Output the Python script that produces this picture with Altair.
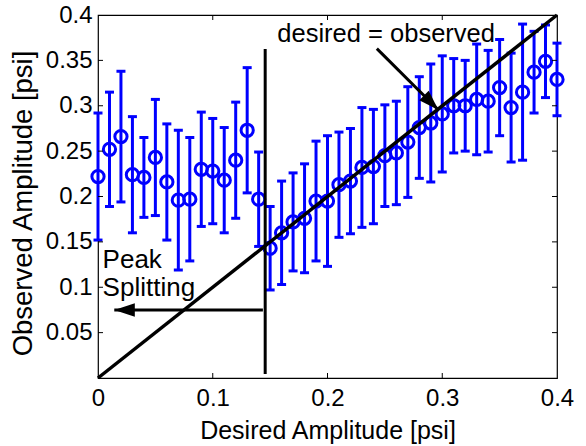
import altair as alt
import pandas as pd

# ---- data ----
desired = [0.00, 0.01, 0.02, 0.03, 0.04, 0.05, 0.06, 0.07, 0.08, 0.09,
           0.10, 0.11, 0.12, 0.13, 0.14, 0.15, 0.16, 0.17, 0.18, 0.19,
           0.20, 0.21, 0.22, 0.23, 0.24, 0.25, 0.26, 0.27, 0.28, 0.29,
           0.30, 0.31, 0.32, 0.33, 0.34, 0.35, 0.36, 0.37, 0.38, 0.39, 0.40]
observed = [0.222, 0.252, 0.266, 0.224, 0.221, 0.243, 0.216, 0.196, 0.197, 0.230,
            0.228, 0.218, 0.240, 0.273, 0.197, 0.143, 0.160, 0.172, 0.176, 0.195,
            0.195, 0.213, 0.217, 0.232, 0.233, 0.245, 0.248, 0.260, 0.276, 0.281,
            0.291, 0.300, 0.300, 0.307, 0.305, 0.320, 0.298, 0.315, 0.337, 0.349, 0.329]
errors = [0.070, 0.063, 0.072, 0.064, 0.044, 0.064, 0.064, 0.077, 0.068, 0.063,
          0.058, 0.058, 0.064, 0.069, 0.052, 0.046, 0.057, 0.054, 0.060, 0.066,
          0.072, 0.058, 0.058, 0.066, 0.063, 0.056, 0.057, 0.061, 0.056, 0.065,
          0.064, 0.052, 0.050, 0.061, 0.056, 0.053, 0.060, 0.075, 0.045, 0.040, 0.040]

x_ticks = [0, 0.1, 0.2, 0.3, 0.4]
y_ticks = [0.05, 0.1, 0.15, 0.2, 0.25, 0.3, 0.35, 0.4]
x_inner_ticks = [0.1, 0.2, 0.3]
y_inner_ticks = [0.05, 0.1, 0.15, 0.2, 0.25, 0.3, 0.35]

# annotation geometry (data units)
diag_x = [0.0, 0.4]
diag_y = [0.0, 0.4]
split_x = [0.1457]
split_y0 = [0.0044]
split_y1 = [0.3625]
peak_arrow_x0 = [0.1437]
peak_arrow_x1 = [0.0142]
peak_arrow_y = [0.0749]
eq_arrow_x0 = [0.243]
eq_arrow_y0 = [0.363]
eq_arrow_x1 = [0.2967]
eq_arrow_y1 = [0.2953]
eq_text = ["desired = observed"]
eq_text_x = [0.2511]
eq_text_y = [0.3706]
peak_text = ["Peak", "Splitting"]
peak_text_x = [0.0040, 0.0040]
peak_text_y = [0.1216, 0.0904]

W, H = 459, 363
FONT = "Liberation Sans"
BLUE = "#0000FF"

xs = alt.Scale(domain=[0, 0.4], nice=False, zero=False)
ys = alt.Scale(domain=[0, 0.4], nice=False, zero=False)
x_axis = alt.Axis(values=x_ticks, format="~g", title="Desired Amplitude [psi]",
                  labelFlush=False, labelOverlap=False, tickSize=0, ticks=False,
                  labelPadding=8, titlePadding=8, titleFontSize=25)
y_axis = alt.Axis(values=y_ticks, format="~g", title="Observed Amplitude [psi]",
                  labelFlush=False, labelOverlap=False, tickSize=0, ticks=False,
                  labelPadding=6, titlePadding=8, titleFontSize=27.5, titleY=188)


def X(f):
    return alt.X(f, scale=xs, axis=x_axis, title="Desired Amplitude [psi]")


def Y(f):
    return alt.Y(f, scale=ys, axis=y_axis, title="Observed Amplitude [psi]")


df = pd.DataFrame({"x": desired, "y": observed, "e": errors})
df["lo"] = df["y"] - df["e"]
df["hi"] = df["y"] + df["e"]

base = alt.Chart(df)

bars = base.mark_rule(color=BLUE, strokeWidth=3).encode(
    x=X("x:Q"), y=Y("lo:Q"), y2="hi:Q")

caps = base.transform_fold(["lo", "hi"], as_=["k", "v"]).mark_tick(
    color=BLUE, orient="horizontal", size=9, thickness=3, opacity=1
).encode(x=X("x:Q"), y=Y("v:Q"))

pts = base.mark_point(shape="circle", filled=False, size=150, strokeWidth=3,
                      color=BLUE, opacity=1).encode(x=X("x:Q"), y=Y("y:Q"))

diag = alt.Chart(pd.DataFrame({"x": diag_x, "y": diag_y})).mark_line(
    color="black", strokeWidth=3.5).encode(x=X("x:Q"), y=Y("y:Q"))

split = alt.Chart(pd.DataFrame({"x": split_x, "y0": split_y0, "y1": split_y1})).mark_rule(
    color="black", strokeWidth=3).encode(x=X("x:Q"), y=Y("y0:Q"), y2="y1:Q")

arrow_shape = "M0,0L2,-0.65L2,0.65Z"

peak_df = pd.DataFrame({"x0": peak_arrow_x0, "x1": peak_arrow_x1, "y": peak_arrow_y})
peak_line = alt.Chart(peak_df).mark_rule(color="black", strokeWidth=3).encode(
    x=X("x0:Q"), x2="x1:Q", y=Y("y:Q"))
peak_head = alt.Chart(peak_df).mark_point(shape=arrow_shape, filled=True, size=420,
                                          color="black", opacity=1, strokeWidth=0).encode(
    x=X("x1:Q"), y=Y("y:Q"))

eq_df = pd.DataFrame({"x0": eq_arrow_x0, "y0": eq_arrow_y0, "x1": eq_arrow_x1, "y1": eq_arrow_y1})
eq_line = alt.Chart(eq_df).mark_rule(color="black", strokeWidth=3).encode(
    x=X("x0:Q"), y=Y("y0:Q"), x2="x1:Q", y2="y1:Q")
eq_head = alt.Chart(eq_df).mark_point(shape=arrow_shape, filled=True, size=420, angle=225,
                                      color="black", opacity=1, strokeWidth=0).encode(
    x=X("x1:Q"), y=Y("y1:Q"))

eq_label = alt.Chart(pd.DataFrame({"t": eq_text, "x": eq_text_x, "y": eq_text_y})).mark_text(
    font=FONT, fontSize=25.5, color="black", align="center", baseline="alphabetic").encode(
    x=X("x:Q"), y=Y("y:Q"), text="t:N")

peak_label = alt.Chart(pd.DataFrame({"t": peak_text, "x": peak_text_x, "y": peak_text_y})).mark_text(
    font=FONT, fontSize=26, color="black", align="left", baseline="alphabetic").encode(
    x=X("x:Q"), y=Y("y:Q"), text="t:N")

# inward ticks (MATLAB style box)
xt = pd.DataFrame({"v": x_inner_ticks})
yt = pd.DataFrame({"v": y_inner_ticks})
TL = 5
tick_bottom = alt.Chart(xt).mark_rule(color="black", strokeWidth=1).encode(
    x=X("v:Q"), y=alt.value(H), y2=alt.value(H - TL))
tick_top = alt.Chart(xt).mark_rule(color="black", strokeWidth=1).encode(
    x=X("v:Q"), y=alt.value(0), y2=alt.value(TL))
tick_left = alt.Chart(yt).mark_rule(color="black", strokeWidth=1).encode(
    y=Y("v:Q"), x=alt.value(0), x2=alt.value(TL))
tick_right = alt.Chart(yt).mark_rule(color="black", strokeWidth=1).encode(
    y=Y("v:Q"), x=alt.value(W), x2=alt.value(W - TL))

chart = alt.layer(
    bars, caps, pts, diag, split, peak_line, peak_head, eq_line, eq_head,
    eq_label, peak_label, tick_bottom, tick_top, tick_left, tick_right
).properties(
    width=W, height=H,
    autosize=alt.AutoSizeParams(type="none"),
    padding={"left": 98, "top": 15, "right": 29, "bottom": 68},
    background="white",
).configure_view(
    stroke="black", strokeWidth=1.2
).configure_axis(
    grid=False, domain=False,
    labelFont=FONT, titleFont=FONT, labelFontSize=24,
    labelColor="black", titleColor="black", titleFontWeight="normal",
)

chart.save("out.html", embed_options={"renderer": "svg", "actions": False})
